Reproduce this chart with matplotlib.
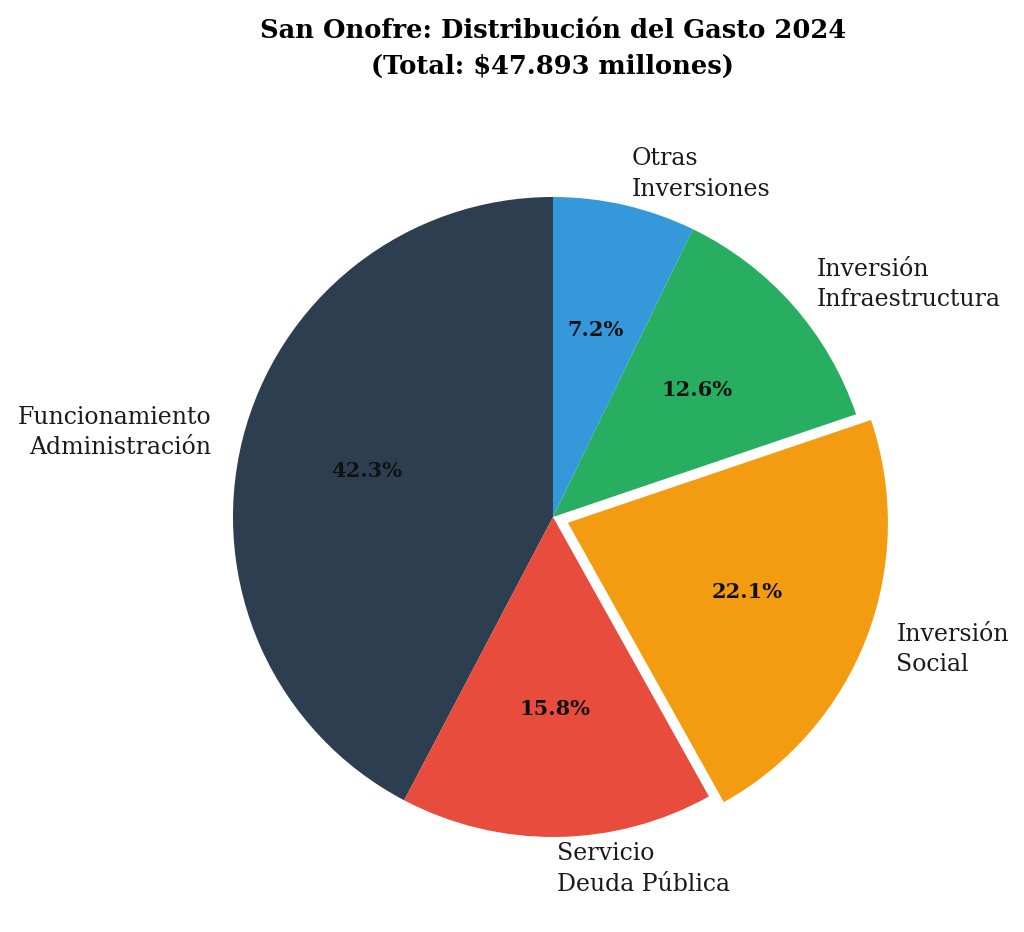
import matplotlib.pyplot as plt

# Datos del gasto 2024 (porcentajes)
categorias = ['Funcionamiento\nAdministración', 'Servicio\nDeuda Pública', 'Inversión\nSocial',
              'Inversión\nInfraestructura', 'Otras\nInversiones']
porcentajes = [42.3, 15.8, 22.1, 12.6, 7.2]
colores = ['#2c3e50', '#e74c3c', '#f39c12', '#27ae60', '#3498db']
separacion = [0, 0, 0.05, 0, 0]

plt.rcParams['font.family'] = ['DejaVu Serif']

fig = plt.figure(figsize=(10.24, 9.32), dpi=100)
ax = fig.add_axes([0.1494, 0.0161, 0.78125, 0.8584])

wedges, textos, autotextos = ax.pie(
    porcentajes, labels=categorias, colors=colores, explode=separacion,
    startangle=90, autopct='%1.1f%%', pctdistance=0.6, labeldistance=1.1,
    textprops={'fontsize': 17, 'color': '#1a1a1a'})

for t in textos:
    t.set_linespacing(1.4)

for t in autotextos:
    t.set_fontsize(15)
    t.set_fontweight('bold')
    t.set_color('#111111')

ax.set_aspect('equal')
fig.text(0.54, 0.981, 'San Onofre: Distribución del Gasto 2024\n(Total: $47.893 millones)',
         ha='center', va='top', fontsize=18.5, fontweight='bold', linespacing=1.55)

fig.savefig('out.png', dpi=100)
